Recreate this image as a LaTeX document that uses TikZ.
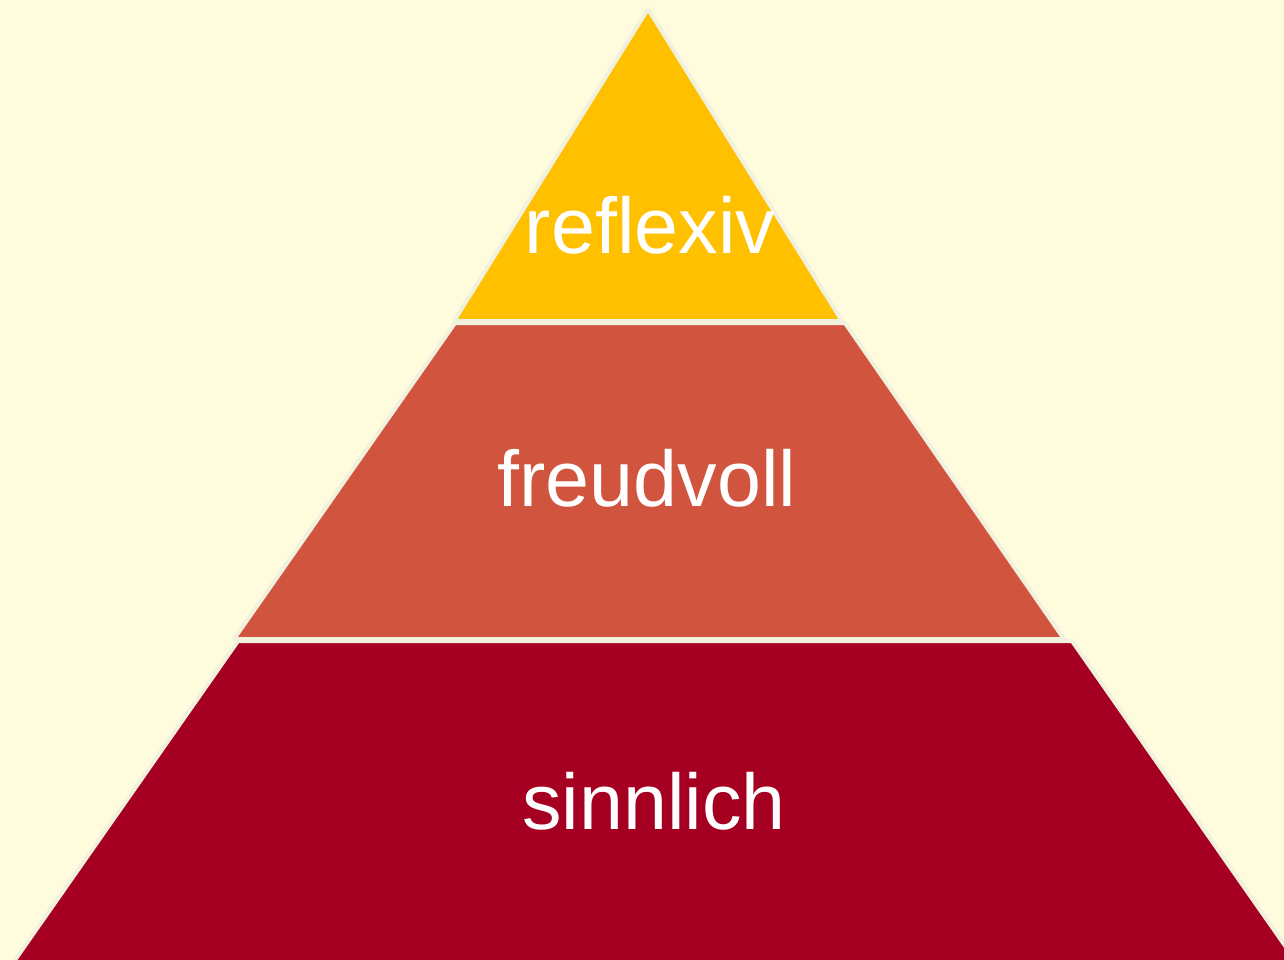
\documentclass[tikz,border=0pt]{standalone}
\usepackage{fontspec}
\setmainfont{Liberation Sans}
\definecolor{bgcream}{HTML}{FFFCDD}
\definecolor{tiertop}{HTML}{FFC000}
\definecolor{tiermid}{HTML}{D1553E}
\definecolor{tierbase}{HTML}{A50021}
\definecolor{tieredge}{HTML}{F1F1DE}
\tikzset{
  tier/.style={draw=tieredge, line width=4pt, line join=round},
  tierlabel/.style={text=white, anchor=base, inner sep=0pt,
    font=\fontsize{79}{95}\selectfont}
}
\begin{document}
\begin{tikzpicture}[x=1pt,y=-1pt]
  \useasboundingbox (0,0) rectangle (1284,960);
  \fill[bgcream] (0,0) rectangle (1284,960);
  \begin{scope}
    \clip (0,0) rectangle (1284,960);
    % base tier
    \path[tier, fill=tierbase] (238,641) -- (1072,641) -- (1302,970) -- (8,970) -- cycle;
    % middle tier
    \path[tier, fill=tiermid] (455,323) -- (845,323) -- (1064,639) -- (234,639) -- cycle;
    % top tier
    \path[tier, fill=tiertop] (648,9) -- (842,321) -- (454,321) -- cycle;
  \end{scope}
  \node[tierlabel] (reflexiv) at (650,253) {reflexiv};
  \node[tierlabel] (freudvoll) at (647,506) {freudvoll};
  \node[tierlabel] (sinnlich) at (654,829) {sinnlich};
\end{tikzpicture}
\end{document}
